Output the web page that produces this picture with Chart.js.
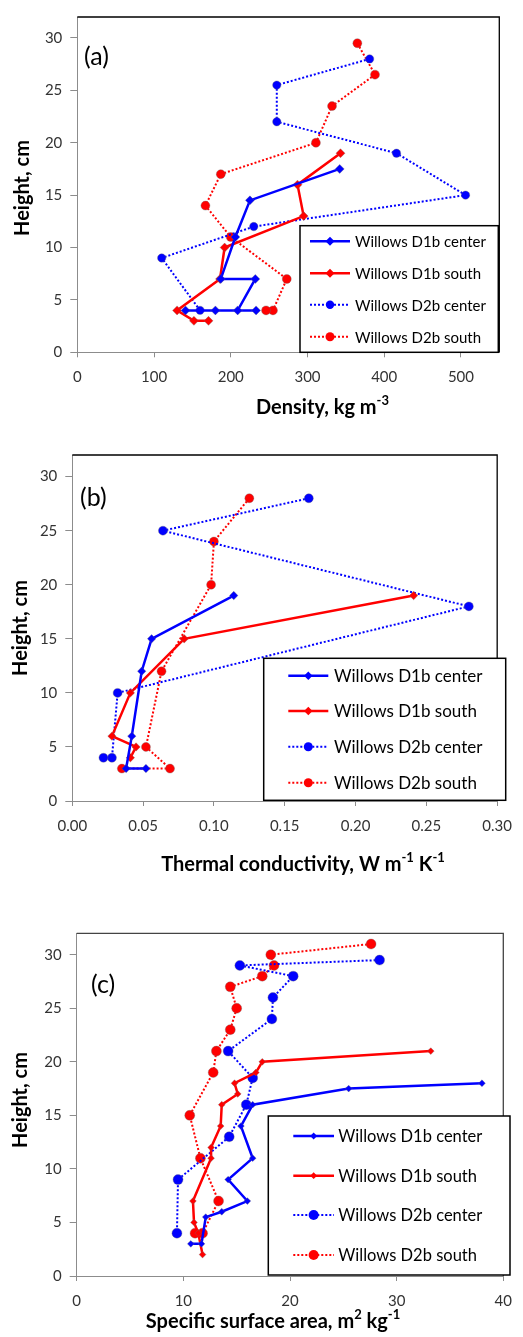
<!DOCTYPE html>
<html>
<head>
<meta charset="utf-8">
<script src="https://cdn.jsdelivr.net/npm/chart.js@4.4.1/dist/chart.umd.min.js"></script>
<style>
  html, body { margin: 0; padding: 0; background: #fff; }
  #wrap { position: relative; width: 523px; height: 1337px; }
  canvas { position: absolute; left: 0; }
</style>
</head>
<body>
<div id="wrap">
  <canvas id="chartA" style="top:0px"></canvas>
  <canvas id="chartB" style="top:430px"></canvas>
  <canvas id="chartC" style="top:880px"></canvas>
</div>
<script>
// Series names (same four profiles in every panel)
const seriesNames = ['Willows D1b center', 'Willows D1b south', 'Willows D2b center', 'Willows D2b south'];

// Tick values
const heightTicks = [0, 5, 10, 15, 20, 25, 30];
const densityTicks = [0, 100, 200, 300, 400, 500];
const conductivityTicks = [0, 0.05, 0.10, 0.15, 0.20, 0.25, 0.30];
const ssaTicks = [0, 10, 20, 30, 40];

// (a) Density, kg m-3
const densD1bCenterX = [342, 225, 206, 187, 232, 209, 233, 180, 141];
const densD1bCenterY = [17.5, 14.5, 11, 7, 7, 4, 4, 4, 4];
const densD1bSouthX = [343, 287, 295, 192, 186, 130, 152, 171];
const densD1bSouthY = [19, 16, 13, 10, 7, 4, 3, 3];
const densD2bCenterX = [381, 260, 260, 416, 506, 230, 110, 160];
const densD2bCenterY = [28, 25.5, 22, 19, 15, 12, 9, 4];
const densD2bSouthX = [365, 388, 332, 311, 187, 167, 200, 273, 255, 246];
const densD2bSouthY = [29.5, 26.5, 23.5, 20, 17, 14, 11, 7, 4, 4];

// (b) Thermal conductivity, W m-1 K-1
const condD1bCenterX = [0.114, 0.056, 0.049, 0.042, 0.038, 0.052];
const condD1bCenterY = [19, 15, 12, 6, 3, 3];
const condD1bSouthX = [0.241, 0.079, 0.041, 0.028, 0.045, 0.041];
const condD1bSouthY = [19, 15, 10, 6, 5, 4];
const condD2bCenterX = [0.167, 0.064, 0.280, 0.032, 0.028, 0.022];
const condD2bCenterY = [28, 25, 18, 10, 4, 4];
const condD2bSouthX = [0.125, 0.100, 0.098, 0.063, 0.052, 0.069, 0.035];
const condD2bSouthY = [28, 24, 20, 12, 5, 3, 3];

// (c) Specific surface area, m2 kg-1
const ssaD1bCenterX = [38.0, 25.5, 16.5, 15.4, 16.5, 14.2, 16.0, 13.6, 12.1, 11.7, 10.7];
const ssaD1bCenterY = [18, 17.5, 16, 14, 11, 9, 7, 6, 5.5, 3, 3];
const ssaD1bSouthX = [33.2, 17.4, 16.8, 14.8, 15.1, 13.6, 13.5, 12.6, 12.6, 10.9, 11.0, 11.4, 11.8];
const ssaD1bSouthY = [21, 20, 19, 18, 17, 16, 14, 12, 11, 7, 5, 4, 2];
const ssaD2bCenterX = [28.4, 15.3, 20.3, 18.4, 18.3, 14.2, 16.5, 15.9, 14.3, 9.5, 9.4];
const ssaD2bCenterY = [29.5, 29, 28, 26, 24, 21, 18.5, 16, 13, 9, 4];
const ssaD2bSouthX = [27.6, 18.2, 18.5, 17.4, 14.4, 15.0, 14.4, 13.1, 12.8, 10.6, 11.6, 13.3, 11.8, 11.1];
const ssaD2bSouthY = [31, 30, 29, 28, 27, 25, 23, 21, 19, 15, 11, 7, 4, 4];

const FONT = 'Lato, "Open Sans", sans-serif';
const BLUE = '#0000ff';
const RED = '#ff0000';
const AXIS_GREY = '#8c8c8c';
const TITLE_SIZE = 20;

Chart.defaults.font.family = FONT;

function pts(xs, ys) {
    return xs.map((x, i) => ({ x: x, y: ys[i] }));
}

function series(name, xs, ys, color, dotted, r) {
    return {
        label: name,
        data: pts(xs, ys),
        showLine: true,
        borderColor: color,
        backgroundColor: color,
        borderWidth: dotted ? 2 : 2.5,
        borderDash: dotted ? [2, 2] : [],
        pointStyle: dotted ? 'circle' : 'rectRot',
        pointRadius: r,
        pointHoverRadius: r,
        pointBackgroundColor: color,
        pointBorderColor: 'rgba(110,110,110,0.35)',
        pointBorderWidth: 1,
        tension: 0,
        clip: false
    };
}

function drawMarker(ctx, style, r, x, y, color) {
    ctx.beginPath();
    if (style === 'circle') {
        ctx.arc(x, y, r, 0, Math.PI * 2);
    } else {
        ctx.moveTo(x, y - r);
        ctx.lineTo(x + r, y);
        ctx.lineTo(x, y + r);
        ctx.lineTo(x - r, y);
        ctx.closePath();
    }
    ctx.fillStyle = color;
    ctx.fill();
}

// bold text with superscript parts, centred on cx
function drawRich(ctx, parts, cx, cy, size) {
    const supSize = Math.round(size * 0.65);
    let total = 0;
    parts.forEach(p => {
        ctx.font = `bold ${p.sup ? supSize : size}px ${FONT}`;
        p.w = ctx.measureText(p.t).width;
        total += p.w;
    });
    let x = cx - total / 2;
    ctx.textAlign = 'left';
    ctx.textBaseline = 'middle';
    parts.forEach(p => {
        ctx.font = `bold ${p.sup ? supSize : size}px ${FONT}`;
        ctx.fillText(p.t, x, p.sup ? cy - size * 0.36 : cy);
        x += p.w;
    });
}

// frame, legend box, panel letter and axis titles
const decoPlugin = {
    id: 'deco',
    afterDatasetsDraw(chart) {
        const o = chart.options.plugins.deco;
        const ctx = chart.ctx;
        const a = chart.chartArea;
        ctx.save();
        // top and right border of plot area
        ctx.strokeStyle = o.frameColor;
        ctx.lineWidth = 1.3;
        ctx.beginPath();
        ctx.moveTo(a.left, a.top);
        ctx.lineTo(a.right, a.top);
        ctx.lineTo(a.right, a.bottom);
        ctx.stroke();

        // legend
        const lg = o.legend;
        ctx.fillStyle = '#fff';
        ctx.fillRect(lg.left, lg.top, lg.right - lg.left, lg.bottom - lg.top);
        ctx.strokeStyle = '#000';
        ctx.lineWidth = 1.5;
        ctx.strokeRect(lg.left, lg.top, lg.right - lg.left, lg.bottom - lg.top);
        chart.data.datasets.forEach((ds, i) => {
            const y = lg.rows[i];
            ctx.strokeStyle = ds.borderColor;
            ctx.lineWidth = ds.borderWidth;
            ctx.setLineDash(ds.borderDash);
            ctx.beginPath();
            ctx.moveTo(lg.x1, y);
            ctx.lineTo(lg.x2, y);
            ctx.stroke();
            ctx.setLineDash([]);
            drawMarker(ctx, ds.pointStyle, ds.pointRadius, (lg.x1 + lg.x2) / 2, y, ds.borderColor);
            ctx.fillStyle = '#000';
            ctx.font = `${lg.fontSize}px ${FONT}`;
            ctx.textAlign = 'left';
            ctx.textBaseline = 'middle';
            ctx.fillText(ds.label, lg.textX, y + 1);
        });

        // panel letter
        ctx.fillStyle = '#000';
        ctx.font = `25px ${FONT}`;
        ctx.textAlign = 'left';
        ctx.textBaseline = 'middle';
        ctx.fillText(o.letter, o.letterX, o.letterY);

        // x title
        drawRich(ctx, o.xTitle, o.xTitleX, o.xTitleY, TITLE_SIZE);

        // y title
        ctx.save();
        ctx.translate(o.yTitleX, o.yTitleY);
        ctx.rotate(-Math.PI / 2);
        ctx.font = `bold ${TITLE_SIZE}px ${FONT}`;
        ctx.textAlign = 'center';
        ctx.textBaseline = 'middle';
        ctx.fillText('Height, cm', 0, 0);
        ctx.restore();
        ctx.restore();
    }
};

function makePanel(id, p) {
    const canvas = document.getElementById(id);
    canvas.width = 523;
    canvas.height = p.height;
    canvas.style.width = '523px';
    canvas.style.height = p.height + 'px';

    return new Chart(canvas.getContext('2d'), {
        type: 'scatter',
        data: { datasets: p.datasets },
        options: {
            responsive: false,
            animation: false,
            devicePixelRatio: 1,
            layout: { padding: { top: p.area.top, right: 523 - p.area.right, left: 0, bottom: 0 } },
            plugins: {
                legend: { display: false },
                tooltip: { enabled: false },
                deco: p.deco
            },
            scales: {
                x: {
                    type: 'linear',
                    min: 0,
                    max: p.xMax,
                    afterBuildTicks: s => { s.ticks = p.xTicks.map(v => ({ value: v })); },
                    afterFit: s => { s.height = p.height - p.area.bottom; },
                    ticks: {
                        color: '#333',
                        font: { size: 15 },
                        padding: 11,
                        maxRotation: 0,
                        callback: p.xFormat
                    },
                    grid: { drawOnChartArea: false, drawTicks: true, tickLength: 5, color: AXIS_GREY },
                    border: { color: AXIS_GREY, width: 1 }
                },
                y: {
                    type: 'linear',
                    min: 0,
                    max: 32,
                    afterBuildTicks: s => { s.ticks = heightTicks.map(v => ({ value: v })); },
                    afterFit: s => { s.width = p.area.left; },
                    ticks: { color: '#333', font: { size: 15 }, padding: 8 },
                    grid: { drawOnChartArea: false, drawTicks: true, tickLength: 7, color: AXIS_GREY },
                    border: { color: AXIS_GREY, width: 1 }
                }
            }
        },
        plugins: [decoPlugin]
    });
}

// (a)
makePanel('chartA', {
    height: 430,
    area: { left: 77.3, right: 499.3, top: 9, bottom: 352.3 },
    xMax: 550,
    xTicks: densityTicks,
    xFormat: v => String(v),
    datasets: [
        series(seriesNames[0], densD1bCenterX, densD1bCenterY, BLUE, false, 4.5),
        series(seriesNames[1], densD1bSouthX, densD1bSouthY, RED, false, 4.5),
        series(seriesNames[2], densD2bCenterX, densD2bCenterY, BLUE, true, 4.2),
        series(seriesNames[3], densD2bSouthX, densD2bSouthY, RED, true, 4.5)
    ],
    deco: {
        frameColor: '#000',
        legend: { left: 300, top: 225.7, right: 498.3, bottom: 352.3,
                  rows: [241.3, 273.3, 304.7, 336.7], x1: 310, x2: 350, textX: 355, fontSize: 15 },
        letter: '(a)', letterX: 84, letterY: 57,
        xTitle: [{ t: 'Density, kg m' }, { t: '-3', sup: true }], xTitleX: 322.5, xTitleY: 408,
        yTitleX: 22.5, yTitleY: 188
    }
});

// (b)
makePanel('chartB', {
    height: 450,
    area: { left: 72.3, right: 505, top: 25, bottom: 371 },
    xMax: 0.30,
    xTicks: conductivityTicks,
    xFormat: v => v.toFixed(2),
    datasets: [
        series(seriesNames[0], condD1bCenterX, condD1bCenterY, BLUE, false, 4.2),
        series(seriesNames[1], condD1bSouthX, condD1bSouthY, RED, false, 4.2),
        series(seriesNames[2], condD2bCenterX, condD2bCenterY, BLUE, true, 4.5),
        series(seriesNames[3], condD2bSouthX, condD2bSouthY, RED, true, 4.5)
    ],
    deco: {
        frameColor: '#000',
        legend: { left: 263.7, top: 228.3, right: 505.7, bottom: 370.3,
                  rows: [245.7, 281, 316.7, 352.7], x1: 288.3, x2: 328.3, textX: 334, fontSize: 17 },
        letter: '(b)', letterX: 80, letterY: 68,
        xTitle: [{ t: 'Thermal conductivity, W m' }, { t: '-1', sup: true }, { t: ' K' }, { t: '-1', sup: true }],
        xTitleX: 303, xTitleY: 435,
        yTitleX: 20.5, yTitleY: 198
    }
});

// (c)
makePanel('chartC', {
    height: 457,
    area: { left: 76.7, right: 510.7, top: 53.3, bottom: 396 },
    xMax: 40,
    xTicks: ssaTicks,
    xFormat: v => String(v),
    datasets: [
        series(seriesNames[0], ssaD1bCenterX, ssaD1bCenterY, BLUE, false, 3.4),
        series(seriesNames[1], ssaD1bSouthX, ssaD1bSouthY, RED, false, 3.4),
        series(seriesNames[2], ssaD2bCenterX, ssaD2bCenterY, BLUE, true, 5),
        series(seriesNames[3], ssaD2bSouthX, ssaD2bSouthY, RED, true, 5)
    ],
    deco: {
        frameColor: '#444',
        legend: { left: 268.3, top: 236, right: 510, bottom: 395,
                  rows: [256, 295.7, 335, 375], x1: 293.3, x2: 334, textX: 338.3, fontSize: 16.5 },
        letter: '(c)', letterX: 91, letterY: 105,
        xTitle: [{ t: 'Specific surface area, m' }, { t: '2', sup: true }, { t: ' kg' }, { t: '-1', sup: true }],
        xTitleX: 273, xTitleY: 441.7,
        yTitleX: 21, yTitleY: 220
    }
});
</script>
</body>
</html>
